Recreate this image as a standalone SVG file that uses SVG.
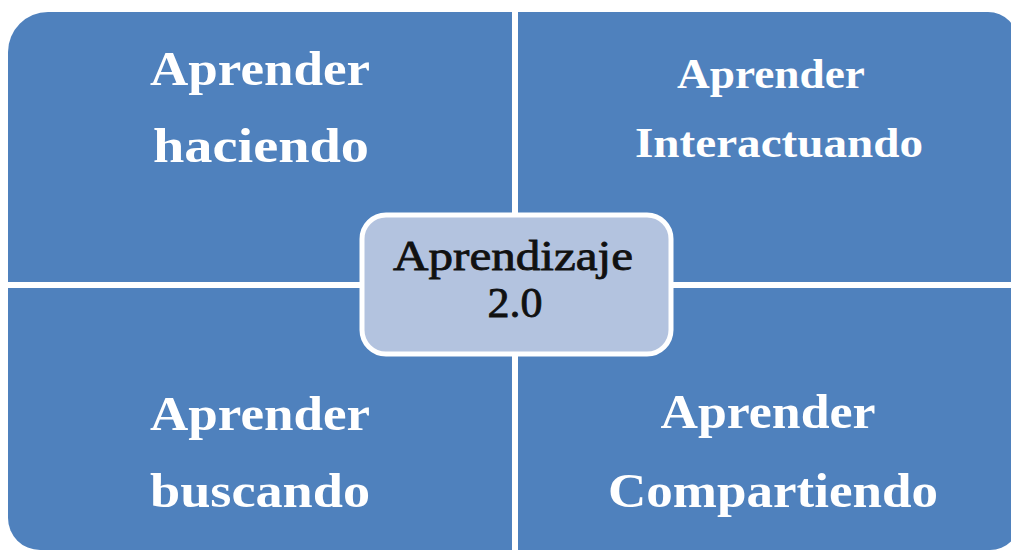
<svg xmlns="http://www.w3.org/2000/svg" width="1011" height="551" viewBox="0 0 1011 551">
  <style>
    .quad { fill: #4F81BD; }
    .lbl { font-family: "Liberation Serif", "Times New Roman", serif; font-weight: bold; fill: #FFFFFF; font-size: 48px; }
    .lbl.small { font-size: 43px; }
    .center-box { fill: #B3C3DF; stroke: #FFFFFF; stroke-width: 5; }
    .center-lbl { font-family: "Liberation Serif", "Times New Roman", serif; font-weight: normal; fill: #111111; stroke: #111111; stroke-width: 0.8; font-size: 42px; }
  </style>
  <rect width="1011" height="551" fill="#FFFFFF"/>
  <g id="quad-haciendo">
    <path class="quad" d="M8,282 V52 A40,40 0 0 1 48,12 H512 V282 Z"/>
    <text class="lbl" x="260" y="85" text-anchor="middle" textLength="220" lengthAdjust="spacingAndGlyphs">Aprender</text>
    <text class="lbl" x="261" y="162" text-anchor="middle" textLength="216" lengthAdjust="spacingAndGlyphs">haciendo</text>
  </g>
  <g id="quad-interactuando">
    <path class="quad" d="M518,12 H988 A30,30 0 0 1 1018,42 V282 H518 Z"/>
    <text class="lbl small" x="771" y="88" text-anchor="middle" textLength="188" lengthAdjust="spacingAndGlyphs">Aprender</text>
    <text class="lbl small" x="779" y="157" text-anchor="middle" textLength="288" lengthAdjust="spacingAndGlyphs">Interactuando</text>
  </g>
  <g id="quad-buscando">
    <path class="quad" d="M8,288 H512 V550 H40 A32,32 0 0 1 8,518 Z"/>
    <text class="lbl" x="260" y="430" text-anchor="middle" textLength="220" lengthAdjust="spacingAndGlyphs">Aprender</text>
    <text class="lbl" x="260" y="507" text-anchor="middle" textLength="220" lengthAdjust="spacingAndGlyphs">buscando</text>
  </g>
  <g id="quad-compartiendo">
    <path class="quad" d="M518,288 H1020 V520 A30,30 0 0 1 990,550 H518 Z"/>
    <text class="lbl" x="768" y="428" text-anchor="middle" textLength="215" lengthAdjust="spacingAndGlyphs">Aprender</text>
    <text class="lbl" x="773" y="507" text-anchor="middle" textLength="330" lengthAdjust="spacingAndGlyphs">Compartiendo</text>
  </g>
  <g id="connectors"></g>
  <g id="center-aprendizaje">
    <rect class="center-box" x="362" y="215" width="309" height="139" rx="24" ry="24"/>
    <text class="center-lbl" x="513" y="270" text-anchor="middle" textLength="240" lengthAdjust="spacingAndGlyphs">Aprendizaje</text>
    <text class="center-lbl" x="515" y="317" text-anchor="middle" textLength="55" lengthAdjust="spacingAndGlyphs">2.0</text>
  </g>
</svg>
